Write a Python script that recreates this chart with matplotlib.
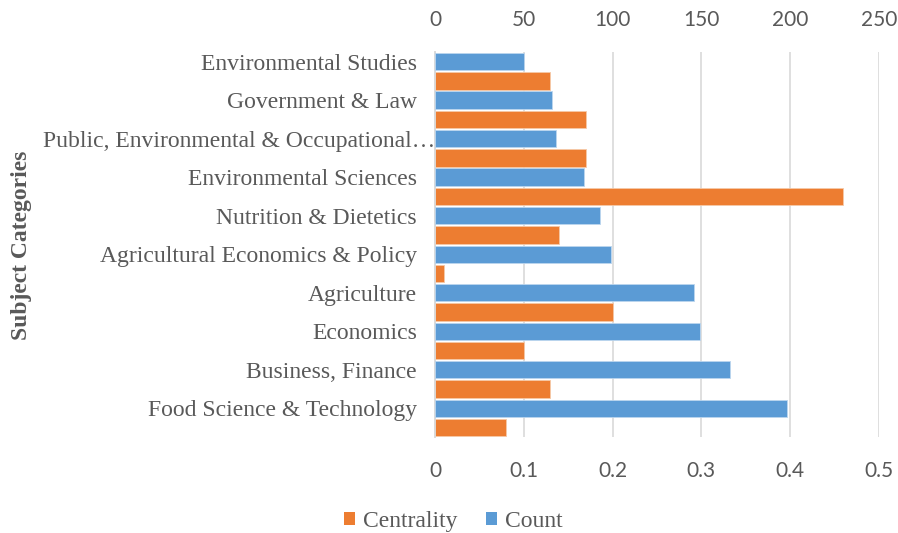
import numpy as np
import matplotlib
matplotlib.use("Agg")
import matplotlib.pyplot as plt
import matplotlib.transforms as mtransforms
from matplotlib.patches import Patch

categories = [
    "Environmental Studies",
    "Government & Law",
    "Public, Environmental & Occupational\u2026",
    "Environmental Sciences",
    "Nutrition & Dietetics",
    "Agricultural Economics & Policy",
    "Agriculture",
    "Economics",
    "Business, Finance",
    "Food Science & Technology",
]
count = [50, 66, 68, 84, 93, 99, 146, 149, 166, 198]
centrality = [0.13, 0.17, 0.17, 0.46, 0.14, 0.01, 0.20, 0.10, 0.13, 0.08]
count_ticks = [0, 50, 100, 150, 200, 250]
cent_ticks = [0, 0.1, 0.2, 0.3, 0.4, 0.5]

blue = "#5B9BD5"
orange = "#ED7D31"
txt = "#595959"
serif = "Liberation Serif"
sans = "Lato"

fig = plt.figure(figsize=(8.98, 5.33), dpi=100)
ax = fig.add_axes([0.4844, 0.180, 0.4944, 0.7224])
ax2 = ax.twiny()

y = np.arange(len(categories))
h = 0.45
ax.barh(y + 0.25, centrality, height=h, color=orange, edgecolor="#f6c9a8", linewidth=0.6, zorder=3)
ax2.barh(y - 0.25, count, height=h, color=blue, edgecolor="#bcd6ee", linewidth=0.6, zorder=3)

ax.set_ylim(len(categories) - 0.5, -0.5)
ax2.set_ylim(len(categories) - 0.5, -0.5)
ax.set_xlim(0, 0.5)
ax2.set_xlim(0, 250)

ax.set_xticks(cent_ticks)
ax.set_xticklabels(["0", "0.1", "0.2", "0.3", "0.4", "0.5"])
ax2.set_xticks(count_ticks)
ax2.set_xticklabels([str(v) for v in count_ticks])

ax.set_yticks(y - 0.25)
ax.set_yticklabels(categories, fontfamily=serif, fontsize=17, color=txt)
ax.tick_params(axis="y", length=0, pad=13)
ax.tick_params(axis="x", length=0, pad=17, labelsize=15, labelcolor=txt)
ax2.tick_params(axis="x", length=0, pad=16, labelsize=15, labelcolor=txt)
for lab in ax.get_xticklabels() + ax2.get_xticklabels():
    lab.set_fontfamily(sans)

# the truncated label runs right up to the axis in the original
long_lab = ax.get_yticklabels()[2]
long_lab.set_transform(long_lab.get_transform() +
                       mtransforms.ScaledTranslation(18 / 100, 0, fig.dpi_scale_trans))

ax.grid(axis="x", color="#d9d9d9", linewidth=1.2, zorder=0)
ax.set_axisbelow(True)
for a in (ax, ax2):
    for s in ("top", "right", "bottom"):
        a.spines[s].set_visible(False)
    a.spines["left"].set_color("#d9d9d9")
    a.spines["left"].set_linewidth(1.2)

fig.text(0.024, 0.54, "Subject Categories", rotation=90, ha="center", va="center",
         fontfamily=serif, fontweight="bold", fontsize=17, color=txt)

handles = [Patch(facecolor=orange, label="Centrality"), Patch(facecolor=blue, label="Count")]
fig.legend(handles=handles, loc="center", bbox_to_anchor=(0.505, 0.022), ncol=2, frameon=False,
           prop={"family": serif, "size": 17}, labelcolor=txt, handlelength=0.45,
           handleheight=0.45, handletextpad=0.35, columnspacing=1.2)

plt.savefig("out.png", dpi=100)
